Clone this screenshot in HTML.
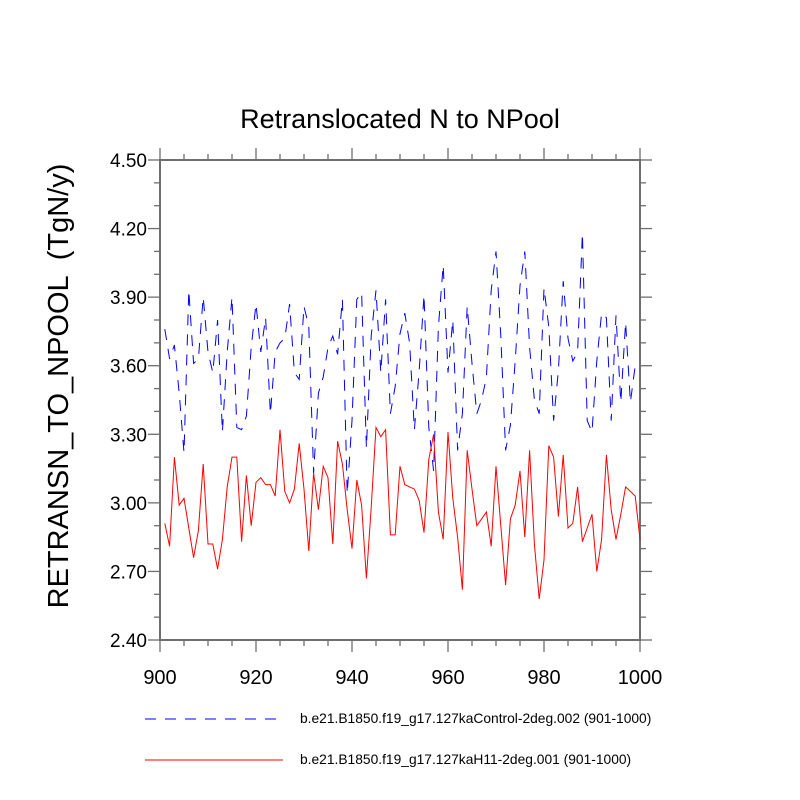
<!DOCTYPE html>
<html><head><meta charset="utf-8"><style>body{margin:0;background:#fff}svg{display:block;font-family:"Liberation Sans",sans-serif}</style></head>
<body>
<svg id="chart" width="800" height="800">
<text x="400" y="128" font-size="27" text-anchor="middle">Retranslocated N to NPool</text>
<text transform="translate(68,386) rotate(-90)" font-size="29" text-anchor="middle" xml:space="preserve" style="white-space:pre">RETRANSN_TO_NPOOL  (TgN/y)</text>
<g id="axes"></g>
<g id="series"></g>
<g>
<line x1="145" y1="719" x2="280" y2="719" stroke="#00f" stroke-width="1" stroke-dasharray="11,9"/>
<text x="300" y="723" font-size="13.8">b.e21.B1850.f19_g17.127kaControl-2deg.002 (901-1000)</text>
<line x1="145" y1="760" x2="283" y2="760" stroke="#f00" stroke-width="1"/>
<text x="300" y="764" font-size="13.8">b.e21.B1850.f19_g17.127kaH11-2deg.001 (901-1000)</text>
</g>
</svg>
<script>
const blueYears0 = 901;
const blueValues = [3.76,3.63,3.69,3.48,3.22,3.93,3.61,3.63,3.90,3.66,3.57,3.80,3.31,3.66,3.90,3.33,3.32,3.38,3.68,3.87,3.66,3.81,3.39,3.66,3.70,3.72,3.87,3.57,3.54,3.86,3.77,3.13,3.48,3.55,3.68,3.73,3.65,3.89,3.04,3.36,3.89,3.92,3.24,3.73,3.93,3.57,3.89,3.39,3.51,3.74,3.83,3.70,3.32,3.58,3.91,3.33,3.14,3.77,4.04,3.57,3.80,3.23,3.39,3.86,3.61,3.39,3.45,3.55,3.93,4.10,3.73,3.23,3.34,3.62,3.95,4.10,3.68,3.45,3.39,3.94,3.77,3.36,3.58,3.97,3.72,3.62,3.66,4.18,3.36,3.31,3.62,3.83,3.81,3.36,3.82,3.44,3.79,3.44,3.60];
const redYears0 = 901;
const redValues = [2.91,2.81,3.20,2.99,3.02,2.89,2.76,2.88,3.17,2.82,2.82,2.71,2.84,3.07,3.20,3.20,2.83,3.12,2.90,3.09,3.11,3.08,3.08,3.03,3.32,3.05,3.00,3.06,3.26,3.06,2.79,3.13,2.97,3.16,3.11,2.82,3.27,3.17,2.97,2.80,3.10,2.99,2.67,2.98,3.33,3.29,3.32,2.86,2.86,3.16,3.08,3.07,3.06,3.01,2.87,3.19,3.30,2.96,2.84,3.31,3.02,2.85,2.62,3.23,3.06,2.90,2.93,2.96,2.81,3.16,2.90,2.64,2.93,2.99,3.14,2.85,3.23,2.82,2.58,2.75,3.25,3.20,2.94,3.21,2.89,2.91,3.07,2.83,2.89,2.95,2.70,2.84,3.21,2.97,2.84,2.95,3.07,3.05,3.03,2.84];
const xTicks = [900,920,940,960,980,1000];
const yTicks = ["2.40","2.70","3.00","3.30","3.60","3.90","4.20","4.50"];

const NS="http://www.w3.org/2000/svg";
const L=160,R=640,T=160,B=640;
const sx=v=>L+(v-900)/100*(R-L);
const sy=v=>B-(v-2.4)/2.1*(B-T);
function mk(tag,at,parent){const e=document.createElementNS(NS,tag);for(const k in at)e.setAttribute(k,at[k]);parent.appendChild(e);return e;}
const ax=document.getElementById('axes'), se=document.getElementById('series');
const gc="#6e6e6e";
const frame=mk('rect',{x:L,y:T,width:R-L,height:B-T,fill:'none',stroke:gc,'stroke-width':2},ax);


for(let v=900;v<=1000;v+=5){
  const maj=(v%20===0), len=maj?12:6, x=sx(v);
  const t1=mk('line',{x1:x,y1:B,x2:x,y2:B+len,stroke:gc,'stroke-width':1.3},ax);
  
  
  const t2=mk('line',{x1:x,y1:T,x2:x,y2:T-len,stroke:gc,'stroke-width':1.3},ax);
  
  
}
xTicks.forEach(v=>{const t=mk('text',{x:sx(v),y:684,'font-size':20,'text-anchor':'middle'},ax);t.textContent=v;
  
  });
for(let i=0;i<=21;i++){
  const v=2.4+i*0.1, maj=(i%3===0), len=maj?12:6, y=sy(v);
  const t1=mk('line',{x1:L,y1:y,x2:L-len,y2:y,stroke:gc,'stroke-width':1.3},ax);
  
  
  const t2=mk('line',{x1:R,y1:y,x2:R+len,y2:y,stroke:gc,'stroke-width':1.3},ax);
  
  
}
yTicks.forEach(s=>{const t=mk('text',{x:147,y:sy(parseFloat(s))+7,'font-size':19,'text-anchor':'end'},ax);t.textContent=s;
  
  });
const bp=blueValues.map((v,i)=>sx(blueYears0+i).toFixed(1)+','+sy(v).toFixed(1)).join(' ');
const bl=mk('polyline',{points:bp,fill:'none',stroke:'#00f','stroke-width':1,'stroke-dasharray':'11,9'},se);


const rp=redValues.map((v,i)=>sx(redYears0+i).toFixed(1)+','+sy(v).toFixed(1)).join(' ');
const rl=mk('polyline',{points:rp,fill:'none',stroke:'#f00','stroke-width':1},se);


</script>
</body></html>
